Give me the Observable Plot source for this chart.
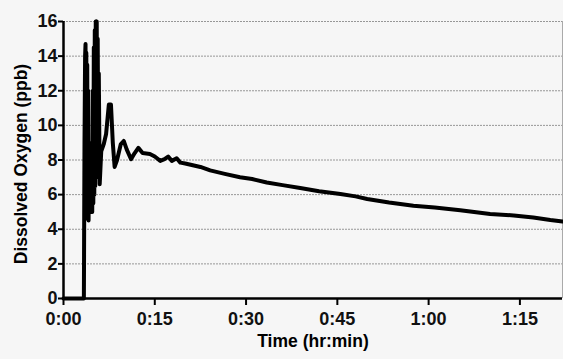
<!DOCTYPE html>
<html>
<head>
<meta charset="utf-8">
<script src="https://cdn.jsdelivr.net/npm/d3@7"></script>
<script src="https://cdn.jsdelivr.net/npm/@observablehq/plot@0.6"></script>
<style>
  html, body { margin: 0; padding: 0; background: #f6f6f6; }
  #chart svg { display: block; background: #f6f6f6; }
</style>
</head>
<body>
<div id="chart"></div>
<script>
// Time in minutes since start
const minutes = [0, 3.35, 3.45, 3.55, 3.62, 3.68, 3.75, 3.82, 3.9, 3.97, 4.05, 4.12, 4.22, 4.32, 4.42, 4.52, 4.62, 4.72, 4.82, 4.9, 4.98, 5.06, 5.14, 5.22, 5.3, 5.38, 5.46, 5.54, 5.62, 5.7, 5.8, 5.95, 6.2, 6.6, 7.0, 7.45, 7.8, 8.1, 8.4, 8.8, 9.4, 9.9, 10.4, 11.1, 11.7, 12.3, 13.0, 14.2, 15.0, 15.9, 16.6, 17.2, 17.8, 18.6, 19.2, 20.0, 22.5, 24.1, 26.5, 29.0, 31.0, 33.4, 36.0, 38.9, 42.0, 45.5, 48.0, 49.9, 53.5, 57.5, 61.0, 65.2, 70.1, 74.0, 77.2, 80.0, 82.0];
// Dissolved oxygen (ppb)
const oxygen  = [0, 0, 9.0, 14.0, 14.7, 5.0, 14.2, 4.8, 13.5, 4.6, 12.0, 4.5, 9.0, 5.0, 8.5, 5.2, 9.0, 5.0, 12.0, 5.5, 14.5, 6.0, 15.5, 6.5, 16.0, 7.0, 16.0, 7.5, 15.0, 9.0, 13.0, 6.6, 8.5, 8.9, 9.5, 11.2, 11.2, 9.0, 7.6, 8.0, 8.9, 9.1, 8.6, 8.05, 8.4, 8.7, 8.4, 8.35, 8.2, 7.95, 8.05, 8.2, 7.95, 8.1, 7.85, 7.8, 7.6, 7.4, 7.2, 7.0, 6.9, 6.7, 6.55, 6.38, 6.2, 6.03, 5.9, 5.75, 5.55, 5.36, 5.25, 5.1, 4.88, 4.8, 4.68, 4.53, 4.45];
const yTicks = [0, 2, 4, 6, 8, 10, 12, 14, 16];
const xTicks = [0, 15, 30, 45, 60, 75];
const xTickLabels = ["0:00", "0:15", "0:30", "0:45", "1:00", "1:15"];

const data = minutes.map((m, i) => ({ t: m, o: oxygen[i] }));
const font = "'Liberation Sans', Arial, sans-serif";

const chart = Plot.plot({
  width: 563,
  height: 359,
  marginLeft: 63,
  marginRight: 1,
  marginTop: 21,
  marginBottom: 61,
  style: { background: "#f6f6f6", fontFamily: font, fontWeight: "bold", fontSize: "18px", color: "#111" },
  x: { domain: [0, 82], label: null },
  y: { domain: [0, 16], label: null },
  marks: [
    Plot.ruleY(yTicks.filter(d => d > 0), { stroke: "#8c8c8c", strokeWidth: 0.9, strokeDasharray: "2,1" }),
    Plot.ruleX([82], { stroke: "#aaa", strokeWidth: 1 }),
    Plot.axisY({ ticks: yTicks, tickSize: 5, tickPadding: 1, stroke: "#000", strokeWidth: 2, fontSize: 18, fontWeight: "bold" }),
    Plot.axisX({ ticks: xTicks, tickFormat: d => xTickLabels[xTicks.indexOf(d)], tickSize: 7, tickPadding: 7, stroke: "#000", strokeWidth: 2, fontSize: 18, fontWeight: "bold" }),
    Plot.line(data, { x: "t", y: "o", stroke: "#000", strokeWidth: 4, strokeLinejoin: "round", strokeLinecap: "round" }),
    Plot.ruleX([0], { stroke: "#000", strokeWidth: 2.5 }),
    Plot.ruleY([0], { stroke: "#000", strokeWidth: 2.5 }),
    Plot.text(["Time (hr:min)"], { frameAnchor: "bottom", dy: 48, text: d => d, fontSize: 17.5, fontWeight: "bold", fill: "#000" }),
    Plot.text(["Dissolved Oxygen (ppb)"], { frameAnchor: "left", textAnchor: "middle", dx: -42, dy: 4, rotate: -90, text: d => d, fontSize: 17.5, fontWeight: "bold", fill: "#000" })
  ]
});
document.getElementById("chart").appendChild(chart);
</script>
</body>
</html>
